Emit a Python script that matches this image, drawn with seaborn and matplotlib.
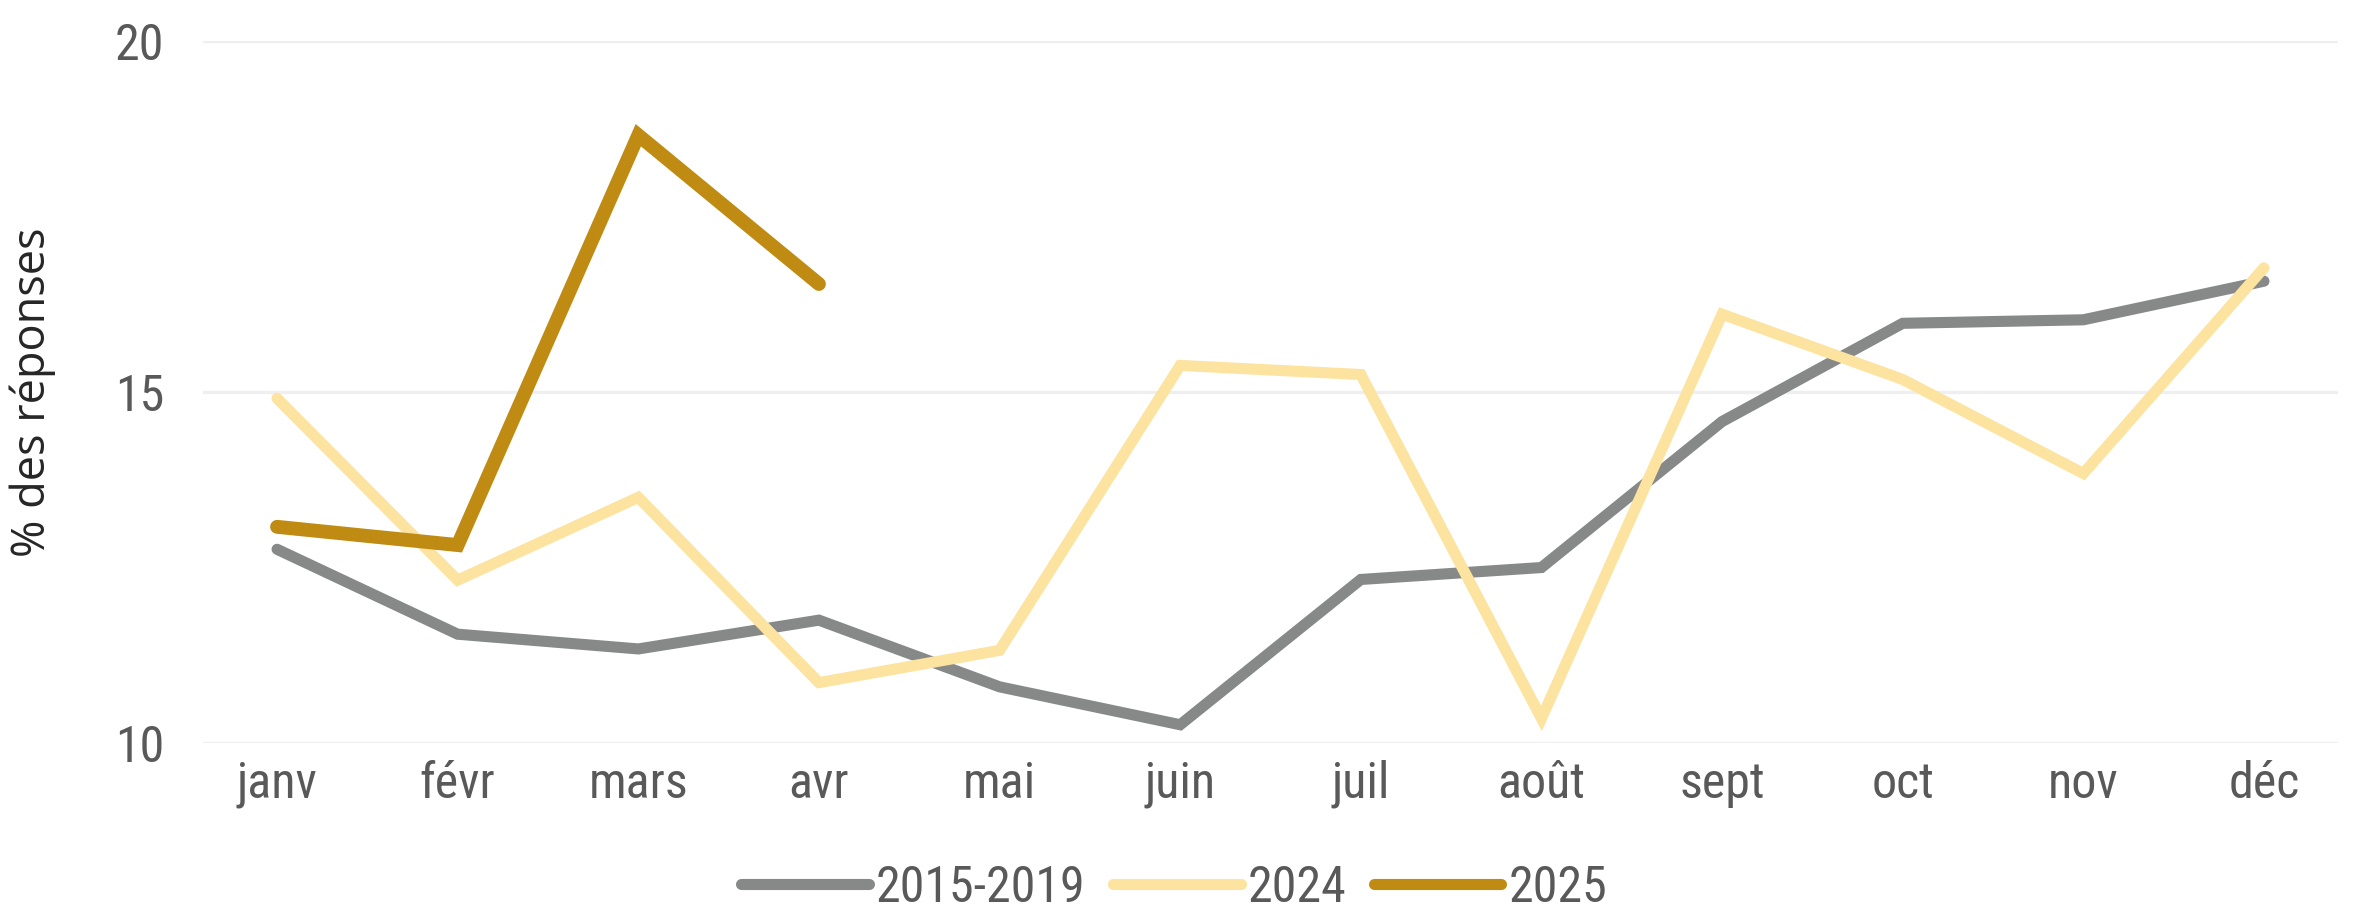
import matplotlib
matplotlib.use("Agg")
import matplotlib.pyplot as plt
import seaborn as sns
import pandas as pd
from matplotlib import font_manager as fm

months = ["janv", "févr", "mars", "avr", "mai", "juin", "juil", "août", "sept", "oct", "nov", "déc"]
s_2015_2019 = [12.76, 11.55, 11.34, 11.75, 10.80, 10.26, 12.33, 12.50, 14.58, 15.98, 16.03, 16.58]
s_2024 = [14.91, 12.32, 13.50, 10.86, 11.32, 15.38, 15.25, 10.35, 16.11, 15.18, 13.84, 16.77]
s_2025 = [13.08, 12.82, 18.66, 16.54]
series_names = ["2015-2019", "2024", "2025"]
y_ticks = [10, 15, 20]

colors = {"2015-2019": "#868988", "2024": "#FDE3A0", "2025": "#BF8B12"}
widths = {"2015-2019": 8.0, "2024": 8.0, "2025": 10.0}

sns.set_theme(style="white")
names = {f.name for f in fm.fontManager.ttflist}
narrow = "Open Sans"
for cand in ["Liberation Sans Narrow", "Roboto Condensed", "Open Sans Condensed", "Noto Sans Condensed"]:
    if cand in names:
        narrow = cand
        break
plt.rcParams["font.family"] = [narrow, "DejaVu Sans"]
fs = 36 if narrow != "Open Sans" else 34

fig = plt.figure(figsize=(23.77, 9.15), dpi=100)
ax = fig.add_axes([0.0854, 0.188, 0.8982, 0.767])

data = {"2015-2019": s_2015_2019, "2024": s_2024, "2025": s_2025}
for name in series_names:
    vals = data[name]
    df = pd.DataFrame({"mois": months[:len(vals)], "val": vals})
    sns.lineplot(data=df, x="mois", y="val", ax=ax, color=colors[name], lw=widths[name],
                 label=name, solid_capstyle="round", solid_joinstyle="miter", sort=False,
                 clip_on=False, legend=False)

ax.set_xlim(-0.41, 11.41)
ax.set_ylim(10, 20)
ax.set_yticks(y_ticks)
ax.set_yticklabels([str(t) for t in y_ticks])
ax.grid(axis="y", color="#EFEFEF", lw=2.4)
ax.grid(axis="x", visible=False)
ax.set_axisbelow(True)
for sp in ax.spines.values():
    sp.set_visible(False)
ax.tick_params(axis="both", length=0, labelsize=fs, colors="#595959")
ax.tick_params(axis="y", pad=28)
ax.tick_params(axis="x", pad=12)
ax.set_xlabel("")
ax.set_ylabel("% des réponses", fontsize=32.5, color="#262626", family=["Open Sans", "DejaVu Sans"])
ax.yaxis.set_label_coords(-0.069, 0.5)

handles = [plt.Line2D([], [], color=colors[n], lw=widths["2015-2019"], solid_capstyle="round") for n in series_names]
leg = fig.legend(handles, series_names, loc="center", bbox_to_anchor=(0.494, 0.03), ncol=3,
                 frameon=False, fontsize=fs, handlelength=2.55, handletextpad=0.14,
                 columnspacing=0.55)
for t in leg.get_texts():
    t.set_color("#595959")

fig.savefig("out.png", dpi=100)
